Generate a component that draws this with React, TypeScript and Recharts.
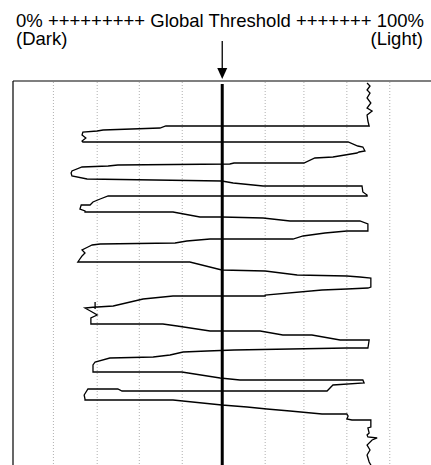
import { ScatterChart, Scatter, XAxis, YAxis, ReferenceLine } from 'recharts';

// brightness level (% of range, dark -> light) and scan row for the traced profile
const traceLevel = [
  84.1, 84.8, 84.1, 84.8, 84.1, 85.0, 84.1, 85.3, 84.1, 84.3, 84.6,
  36.3, 34.9, 21.4, 20.0, 16.6, 16.4, 17.3, 16.4, 16.6,
  79.6, 81.9, 83.1, 83.6, 82.2, 81.7, 76.0, 71.7, 69.1,
  52.5, 51.5, 24.9, 22.6, 16.4, 14.0, 13.8, 14.0, 17.6,
  49.6, 52.3, 59.4, 82.9, 83.1, 84.1, 84.1,
  22.6, 20.7, 19.0, 18.3, 16.2, 15.9, 17.1, 17.1,
  38.0, 44.4, 49.6, 59.4, 65.8, 82.4, 84.3, 84.3,
  79.3, 74.1, 68.9, 66.5,
  46.8, 41.3, 38.5, 20.7, 18.8, 17.8, 16.4, 17.1, 16.4, 15.4,
  42.0, 49.6, 59.9, 67.5, 79.3, 82.4, 85.0, 85.0, 84.3, 79.3, 73.4, 59.9, 59.9,
  38.0, 30.9, 23.8, 20.0, 19.5, 19.5, 19.5, 19.5, 17.1, 18.8, 20.0, 18.5, 18.5,
  35.6, 39.0, 46.8, 58.7, 64.1, 71.0, 77.7, 84.6, 84.3,
  79.3, 52.5, 46.1, 40.4, 37.3, 33.3, 23.0, 19.5, 19.0, 19.0, 20.0,
  40.1, 41.6, 49.2, 53.9, 83.1, 83.4, 76.0, 74.6,
  25.9, 24.9, 17.8, 16.9, 17.1, 17.1,
  38.0, 49.6, 55.6, 60.3, 65.8, 73.4, 79.3, 79.6, 79.3, 80.5, 85.0, 85.0, 84.3,
  84.6, 84.1, 84.3, 86.5, 85.3, 84.1, 84.8, 84.1, 84.6, 85.0, 84.6,
];
const traceRow = [
  2, 5, 9, 12, 17, 22, 27, 30, 34, 40, 45,
  45, 47, 49, 50, 51, 54, 57, 60, 61,
  61, 65, 66, 70, 71, 72, 76, 77, 82,
  82, 83, 84, 85, 86, 90, 92, 95, 98,
  100, 102, 105, 105, 111, 114, 115,
  115, 118, 121, 124, 124, 128, 130, 131,
  131, 136, 136, 137, 140, 140, 143, 150,
  150, 152, 155, 158,
  158, 160, 162, 163, 164, 166, 169, 172, 175, 181,
  181, 189, 190, 194, 195, 196, 197, 206, 207, 208, 209, 214, 215,
  215, 218, 225, 226, 226, 221, 228, 226, 227, 231, 234, 237, 243,
  243, 245, 250, 250, 254, 254, 259, 259, 267,
  267, 269, 270, 271, 274, 276, 277, 281, 284, 291, 291,
  291, 292, 297, 299, 299, 302, 304, 310,
  310, 308, 308, 314, 318, 319,
  319, 324, 326, 328, 330, 333, 333, 335, 338, 339, 339, 346, 347,
  352, 354, 356, 357, 359, 364, 369, 374, 381, 384, 392,
];
const gridTicks = [9.6, 20, 30, 40.2, 59.9, 69.1, 79.3, 89.5];
const threshold = 49.7;
const rowCount = 395;

const data = traceLevel.map((level, i) => ({ level, row: traceRow[i] }));

function DownArrow(props: any) {
  const { x1, y1, x2, y2 } = props;
  return (
    <g>
      <line x1={x1} y1={y1} x2={x2} y2={y2 - 8} stroke="#000" strokeWidth={1.3} />
      <path d={`M${x2 - 5},${y2 - 11} L${x2 + 5},${y2 - 11} L${x2},${y2} Z`} fill="#000" />
    </g>
  );
}

const font = '"Liberation Sans", Arial, sans-serif';
const textStyle = { position: 'absolute' as const, fontFamily: font, fontSize: 18.5, lineHeight: '16px', whiteSpace: 'nowrap' as const };

export default function App() {
  return (
    <div style={{ position: 'absolute', left: 0, top: 0, width: 431, height: 465, overflow: 'hidden', background: '#fff' }}>
      <div style={{ ...textStyle, left: 16, top: 13.3 }}>0% +++++++++ Global Threshold +++++++ 100%</div>
      <div style={{ ...textStyle, left: 16, top: 30.6 }}>(Dark)</div>
      <div style={{ ...textStyle, right: 8, top: 30.6 }}>(Light)</div>
      <ScatterChart width={445} height={480} margin={{ top: 81, right: 11, bottom: 4, left: 13 }} style={{ position: 'absolute', left: 0, top: 0 }}>
        <XAxis type="number" dataKey="level" domain={[0, 100]} hide />
        <YAxis type="number" dataKey="row" domain={[0, rowCount]} reversed hide />
        {gridTicks.map((t) => (
          <ReferenceLine key={t} x={t} stroke="#b0b0b0" strokeDasharray="1 2" />
        ))}
        <ReferenceLine y={0} stroke="#000" strokeWidth={1.2} />
        <ReferenceLine x={0} stroke="#000" strokeWidth={1.2} />
        <ReferenceLine
          segment={[{ x: threshold, y: 3 }, { x: threshold, y: rowCount }]}
          stroke="#000"
          strokeWidth={3}
          ifOverflow="visible"
        />
        <ReferenceLine
          segment={[{ x: threshold, y: -40 }, { x: threshold, y: -2 }]}
          ifOverflow="visible"
          shape={DownArrow}
        />
        <Scatter
          data={data}
          line={{ stroke: '#000', strokeWidth: 1.3 }}
          lineType="joint"
          shape={() => <g />}
          isAnimationActive={false}
        />
      </ScatterChart>
    </div>
  );
}
